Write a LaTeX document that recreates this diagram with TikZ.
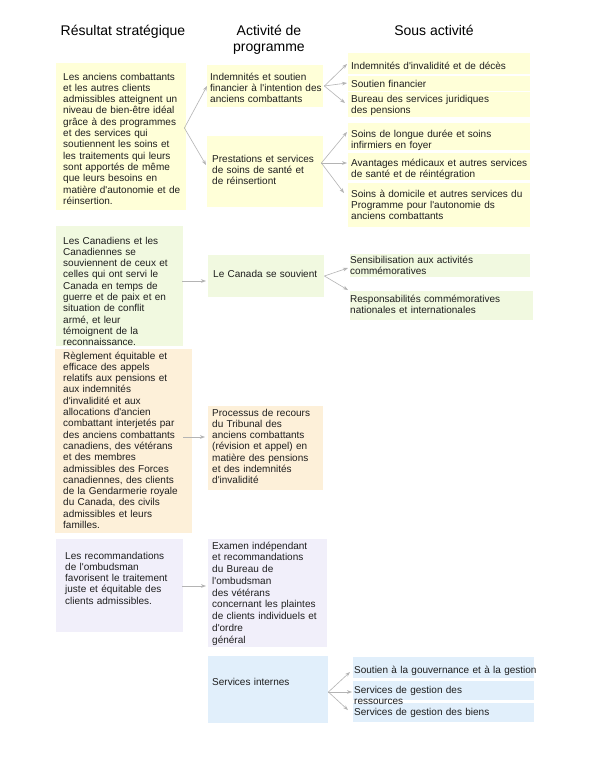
\documentclass[tikz,border=0pt]{standalone}
\usepackage{fontspec}
\setmainfont{Liberation Sans}[Ligatures=TeXOff]
\usetikzlibrary{arrows.meta}
\definecolor{cyel}{HTML}{FFFFD8}
\definecolor{cgrn}{HTML}{F1F9E0}
\definecolor{corg}{HTML}{FDF0D9}
\definecolor{clav}{HTML}{F1EFFA}
\definecolor{cblu}{HTML}{E1EFFB}
\definecolor{ctxt}{HTML}{1E1E1E}
\definecolor{carr}{HTML}{B4B4B4}
\tikzset{
  boxy/.style={rectangle,inner sep=0pt,anchor=north west,fill=#1},
  txt/.style={inner sep=0pt,anchor=base west,text width=190pt,align=left,
     font=\fontsize{10}{11.3}\selectfont,text=ctxt},
  head/.style={inner sep=0pt,anchor=base,align=center,
     font=\fontsize{14}{16}\selectfont,text=black},
  arr/.style={draw=carr,line width=0.6pt,-{Stealth[length=5pt,width=3.6pt]}}
}
\begin{document}
\begin{tikzpicture}[x=1pt,y=-1pt]
\useasboundingbox[fill=white] (0,0) rectangle (590,763);
% headers
\node[head] (h1) at (123,35) {Résultat stratégique};
\node[head] (h2) at (269,51) {Activité de\\programme};
\node[head] (h3) at (434,35) {Sous activité};
% column 1 boxes
\node[boxy=cyel,minimum width=130pt,minimum height=147pt] (r1) at (56,63) {};
\node[boxy=cgrn,minimum width=127pt,minimum height=120pt] (r2) at (56,226) {};
\node[boxy=corg,minimum width=137pt,minimum height=184pt] (r3) at (55,349) {};
\node[boxy=clav,minimum width=127pt,minimum height=93pt] (r4) at (56,539) {};
% column 2 boxes
\node[boxy=cyel,minimum width=116pt,minimum height=42pt] (a1) at (207,65) {};
\node[boxy=cyel,minimum width=116pt,minimum height=71pt] (a2) at (207,136) {};
\node[boxy=cgrn,minimum width=116pt,minimum height=42pt] (a3) at (208,255) {};
\node[boxy=corg,minimum width=115pt,minimum height=84pt] (a4) at (208,406) {};
\node[boxy=clav,minimum width=119pt,minimum height=108pt] (a5) at (208,539) {};
\node[boxy=cblu,minimum width=120pt,minimum height=67pt] (a6) at (208,656) {};
% column 3 boxes
\node[boxy=cyel,minimum width=182pt,minimum height=21pt] (s1) at (348,53) {};
\node[boxy=cyel,minimum width=182pt,minimum height=15pt] (s2) at (348,76) {};
\node[boxy=cyel,minimum width=182pt,minimum height=25pt] (s3) at (348,92) {};
\node[boxy=cyel,minimum width=182pt,minimum height=27pt] (s4) at (348,123) {};
\node[boxy=cyel,minimum width=182pt,minimum height=27pt] (s5) at (348,153) {};
\node[boxy=cyel,minimum width=182pt,minimum height=44pt] (s6) at (348,183) {};
\node[boxy=cgrn,minimum width=180pt,minimum height=23pt] (s7) at (350,254) {};
\node[boxy=cgrn,minimum width=183pt,minimum height=29pt] (s8) at (350,291) {};
\node[boxy=cblu,minimum width=181pt,minimum height=21pt] (s9) at (353,657) {};
\node[boxy=cblu,minimum width=181pt,minimum height=19pt] (s10) at (353,681) {};
\node[boxy=cblu,minimum width=181pt,minimum height=19pt] (s11) at (353,703) {};
% texts column 1
\node[txt] (r1t) at (63,80) {Les anciens combattants\\et les autres clients\\admissibles atteignent un\\niveau de bien-être idéal\\grâce à des programmes\\et des services qui\\soutiennent les soins et\\les traitements qui leurs\\sont apportés de même\\que leurs besoins en\\matière d'autonomie et de\\réinsertion.};
\node[txt] (r2t) at (63,244) {Les Canadiens et les\\Canadiennes se\\souviennent de ceux et\\celles qui ont servi le\\Canada en temps de\\guerre et de paix et en\\situation de conflit\\armé, et leur\\témoignent de la\\reconnaissance.};
\node[txt] (r3t) at (63,359) {Règlement équitable et\\efficace des appels\\relatifs aux pensions et\\aux indemnités\\d'invalidité et aux\\allocations d'ancien\\combattant interjetés par\\des anciens combattants\\canadiens, des vétérans\\et des membres\\admissibles des Forces\\canadiennes, des clients\\de la Gendarmerie royale\\du Canada, des civils\\admissibles et leurs\\familles.};
\node[txt] (r4t) at (65,559) {Les recommandations\\de l'ombudsman\\favorisent le traitement\\juste et équitable des\\clients admissibles.};
% texts column 2
\node[txt] (a1t) at (210,80) {Indemnités et soutien\\financier à l'intention des\\anciens combattants};
\node[txt] (a2t) at (212,162) {Prestations et services\\de soins de santé et\\de réinsertiont};
\node[txt] (a3t) at (213,277) {Le Canada se souvient};
\node[txt] (a4t) at (212,416) {Processus de recours\\du Tribunal des\\anciens combattants\\(révision et appel) en\\matière des pensions\\et des indemnités\\d'invalidité};
\node[txt,font=\fontsize{10}{11.75}\selectfont] (a5t) at (212,549) {Examen indépendant\\et recommandations\\du Bureau de\\l'ombudsman\\des vétérans\\concernant les plaintes\\de clients individuels et\\d'ordre\\général};
\node[txt] (a6t) at (212,685) {Services internes};
% texts column 3
\node[txt] (s1t) at (351,69) {Indemnités d'invalidité et de décès};
\node[txt] (s2t) at (351,87) {Soutien financier};
\node[txt] (s3t) at (351,102) {Bureau des services juridiques\\des pensions};
\node[txt] (s4t) at (351,137) {Soins de longue durée et soins\\infirmiers en foyer};
\node[txt] (s5t) at (351,166) {Avantages médicaux et autres services\\de santé et de réintégration};
\node[txt] (s6t) at (351,197) {Soins à domicile et autres services du\\Programme pour l'autonomie ds\\anciens combattants};
\node[txt] (s7t) at (350,263) {Sensibilisation aux activités\\commémoratives};
\node[txt] (s8t) at (350,302) {Responsabilités commémoratives\\nationales et internationales};
\node[txt] (s9t) at (354,673) {Soutien à la gouvernance et à la gestion};
\node[txt] (s10t) at (354,693) {Services de gestion des\\ressources};
\node[txt] (s11t) at (354,715) {Services de gestion des biens};
% connectors
\draw[arr] ([shift={(-2,65)}]r1.north east) -- ([shift={(0,21)}]a1.north west);
\draw[arr] ([shift={(-2,65)}]r1.north east) -- ([shift={(-1,29)}]a2.north west);
\draw[arr] ([shift={(1,21)}]a1.north east) -- ([shift={(-1,11)}]s1.north west);
\draw[arr] ([shift={(1,21)}]a1.north east) -- ([shift={(-1,7)}]s2.north west);
\draw[arr] ([shift={(1,21)}]a1.north east) -- ([shift={(-3,11)}]s3.north west);
\draw[arr] ([shift={(-2,27)}]a2.north east) -- ([shift={(-1,9)}]s4.north west);
\draw[arr] ([shift={(-2,27)}]a2.north east) -- ([shift={(-1,10)}]s5.north west);
\draw[arr] ([shift={(-2,27)}]a2.north east) -- ([shift={(-4,10)}]s6.north west);
\draw[arr] ([shift={(-1,55)}]r2.north east) -- ([shift={(-2,26)}]a3.north west);
\draw[arr] ([shift={(0,21)}]a3.north east) -- ([shift={(-2,14)}]s7.north west);
\draw[arr] ([shift={(0,21)}]a3.north east) -- ([shift={(-2,-1)}]s8.north west);
\draw[arr] ([shift={(-9,88)}]r3.north east) -- ([shift={(-3,31)}]a4.north west);
\draw[arr] ([shift={(-1,47)}]r4.north east) -- ([shift={(-2,47)}]a5.north west);
\draw[arr] ([shift={(0,36)}]a6.north east) -- ([shift={(-3,15)}]s9.north west);
\draw[arr] ([shift={(0,36)}]a6.north east) -- ([shift={(-1,11)}]s10.north west);
\draw[arr] ([shift={(0,36)}]a6.north east) -- ([shift={(-5,7)}]s11.north west);
\end{tikzpicture}
\end{document}
